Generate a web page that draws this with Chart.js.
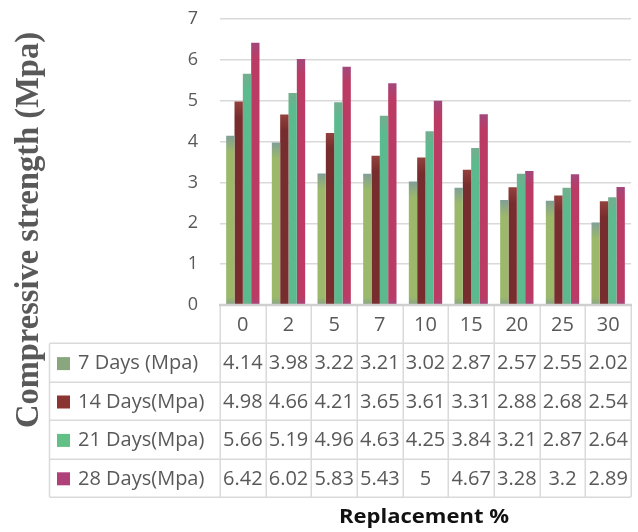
<!DOCTYPE html>
<html>
<head>
<meta charset="utf-8">
<script src="https://cdn.jsdelivr.net/npm/chart.js@4/dist/chart.umd.min.js"></script>
<style>
html,body{margin:0;padding:0;background:#fff;}
canvas{display:block;}
</style>
</head>
<body>
<canvas id="c" width="638" height="532"></canvas>
<script>
const categories = ['0','2','5','7','10','15','20','25','30'];
const seriesNames = ['7 Days (Mpa)','14 Days(Mpa)','21 Days(Mpa)','28 Days(Mpa)'];
const days7  = [4.14,3.98,3.22,3.21,3.02,2.87,2.57,2.55,2.02];
const days14 = [4.98,4.66,4.21,3.65,3.61,3.31,2.88,2.68,2.54];
const days21 = [5.66,5.19,4.96,4.63,4.25,3.84,3.21,2.87,2.64];
const days28 = [6.42,6.02,5.83,5.43,5,4.67,3.28,3.2,2.89];
const yTicks = [0,1,2,3,4,5,6,7];
const yTitle = 'Compressive strength (Mpa)';
const xTitle = 'Replacement %';

// colours: [top tint, body, bottom tint, legend key]
const palette = [
  ['#809f96','#9bb86b','#88a488','#8aa67f'],
  ['#93413d','#772d2d','#7c3232','#8b3533'],
  ['#74ae8e','#5bba8e','#68b18c','#62bf86'],
  ['#a2487c','#bb3b64','#a9457a','#b0407a']
];

function barGrad(c, p){
  const chart = c.chart;
  if (!chart.chartArea || !c.parsed) return p[1];
  const ys = chart.scales.y;
  const yTop = ys.getPixelForValue(c.parsed.y);
  const yBot = ys.getPixelForValue(0);
  const h = yBot - yTop;
  if (h <= 2) return p[1];
  const g = chart.ctx.createLinearGradient(0, yTop, 0, yBot);
  g.addColorStop(0, p[0]);
  g.addColorStop(Math.min(0.45, 16/h), p[1]);
  g.addColorStop(Math.max(0.55, 1 - 8/h), p[1]);
  g.addColorStop(1, p[2]);
  return g;
}

const allSeries = [days7, days14, days21, days28];

const FONT = '"Open Sans", "Liberation Sans", sans-serif';
const GRID = '#d9d9d9';
const TEXT = '#595959';

const tablePlugin = {
  id: 'dataTable',
  afterDraw(chart){
    const ctx = chart.ctx;
    const ca = chart.chartArea;
    const xs = chart.scales.x;
    const n = categories.length;
    const colW = ca.width / n;
    const y0 = ca.bottom;
    const rowH = 38.4;
    const tableLeft = 49.5;
    const bottom = y0 + rowH * (seriesNames.length + 1);
    ctx.save();
    ctx.strokeStyle = '#dadada';
    ctx.lineWidth = 1.5;
    ctx.beginPath();
    for (let i = 0; i <= n; i++){
      const x = Math.round(ca.left + i*colW) + 0.25;
      ctx.moveTo(x, y0); ctx.lineTo(x, bottom);
    }
    ctx.moveTo(tableLeft, y0 + rowH); ctx.lineTo(tableLeft, bottom);
    for (let r = 1; r <= seriesNames.length + 1; r++){
      const y = Math.round(y0 + r*rowH) + 0.25;
      ctx.moveTo(tableLeft, y); ctx.lineTo(ca.right, y);
    }
    ctx.stroke();
    ctx.strokeStyle = '#cfcfcf';
    ctx.lineWidth = 2.5;
    ctx.beginPath();
    ctx.moveTo(ca.left - 1, y0); ctx.lineTo(ca.right + 1, y0);
    ctx.stroke();
    ctx.fillStyle = TEXT;
    ctx.font = '20px ' + FONT;
    ctx.textAlign = 'center';
    ctx.textBaseline = 'middle';
    categories.forEach((c, i) => {
      ctx.fillText(c, xs.getPixelForValue(i), y0 + rowH/2 + 1);
    });
    seriesNames.forEach((name, r) => {
      const cy = y0 + rowH*(r + 1) + rowH/2 + 1;
      ctx.fillStyle = palette[r][3];
      ctx.fillRect(57, cy - 6.5, 13, 13);
      ctx.fillStyle = TEXT;
      ctx.textAlign = 'left';
      ctx.font = '20px ' + FONT;
      const w = ctx.measureText(name).width;
      const maxW = 213 - 78;
      ctx.save();
      ctx.translate(78, cy);
      if (w > maxW) ctx.scale(maxW / w, 1);
      ctx.fillText(name, 0, 0);
      ctx.restore();
      ctx.textAlign = 'center';
      allSeries[r].forEach((v, i) => {
        const s = String(v);
        const tw = ctx.measureText(s).width;
        const cx = xs.getPixelForValue(i);
        ctx.save();
        ctx.translate(cx, cy);
        if (tw > colW - 2) ctx.scale((colW - 2)/tw, 1);
        ctx.fillText(s, 0, 0);
        ctx.restore();
      });
    });
    ctx.save();
    ctx.fillStyle = TEXT;
    ctx.font = 'bold 33px "Liberation Serif", "DejaVu Serif", serif';
    const tw = ctx.measureText(yTitle).width;
    ctx.translate(38, 230);
    ctx.rotate(-Math.PI/2);
    ctx.scale(396/tw, 1);
    ctx.textAlign = 'center';
    ctx.textBaseline = 'alphabetic';
    ctx.fillText(yTitle, 0, 0);
    ctx.restore();
    ctx.save();
    ctx.fillStyle = '#111111';
    ctx.font = 'bold 20px ' + FONT;
    const xw = ctx.measureText(xTitle).width;
    ctx.translate(424, 523);
    ctx.scale(170/xw, 1);
    ctx.textAlign = 'center';
    ctx.textBaseline = 'alphabetic';
    ctx.fillText(xTitle, 0, 0);
    ctx.restore();
    ctx.restore();
  }
};

new Chart(document.getElementById('c'), {
  type: 'bar',
  data: {
    labels: categories,
    datasets: allSeries.map((d, i) => ({
      label: seriesNames[i],
      data: d,
      backgroundColor: c => barGrad(c, palette[i]),
      borderWidth: 0,
      categoryPercentage: 0.73,
      barPercentage: 1.0
    }))
  },
  options: {
    responsive: false,
    animation: false,
    layout: { padding: { top: 19, bottom: 227, left: 0, right: 7 } },
    plugins: { legend: { display: false }, tooltip: { enabled: false } },
    scales: {
      x: { display: false },
      y: {
        min: 0, max: 7,
        afterFit: s => { s.width = 220; s.paddingTop = 0; s.paddingBottom = 0; },
        afterBuildTicks: s => { s.ticks = yTicks.map(v => ({ value: v })); },
        grid: { color: GRID, lineWidth: 1.5, drawTicks: false },
        border: { display: false },
        ticks: { font: { family: FONT, size: 18 }, color: TEXT, padding: 22 }
      }
    }
  },
  plugins: [tablePlugin]
});
</script>
</body>
</html>
